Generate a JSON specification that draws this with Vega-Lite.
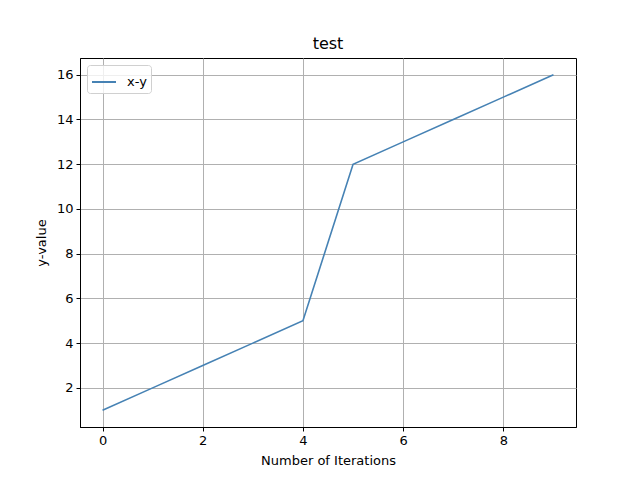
{
  "$schema": "https://vega.github.io/schema/vega-lite/v6.json",
  "autosize": {"type": "none"},
  "width": 496,
  "height": 369,
  "padding": {"left": 80, "top": 58, "right": 64, "bottom": 53},
  "background": "white",
  "config": {
    "font": "DejaVu Sans",
    "view": {"stroke": "black", "strokeWidth": 1},
    "axis": {
      "domainColor": "black",
      "tickColor": "black",
      "tickSize": 4,
      "labelFont": "DejaVu Sans",
      "labelFontSize": 13,
      "labelColor": "black",
      "titleFont": "DejaVu Sans",
      "titleFontSize": 13,
      "titleFontWeight": "normal",
      "titleColor": "black",
      "gridColor": "#b0b0b0",
      "gridWidth": 1,
      "gridOpacity": 1
    }
  },
  "title": {"text": "test", "fontSize": 16, "fontWeight": "normal", "font": "DejaVu Sans", "offset": 6, "color": "black"},
  "data": {"values": [
    {"x": 0, "y": 1, "s": "x-y"},
    {"x": 1, "y": 2, "s": "x-y"},
    {"x": 2, "y": 3, "s": "x-y"},
    {"x": 3, "y": 4, "s": "x-y"},
    {"x": 4, "y": 5, "s": "x-y"},
    {"x": 5, "y": 12, "s": "x-y"},
    {"x": 6, "y": 13, "s": "x-y"},
    {"x": 7, "y": 14, "s": "x-y"},
    {"x": 8, "y": 15, "s": "x-y"},
    {"x": 9, "y": 16, "s": "x-y"}
  ]},
  "mark": {"type": "line", "strokeWidth": 1.6},
  "encoding": {
    "x": {
      "field": "x", "type": "quantitative",
      "scale": {"domain": [-0.45, 9.45], "nice": false, "zero": false},
      "axis": {"values": [0, 2, 4, 6, 8], "title": "Number of Iterations", "labelPadding": 3, "titlePadding": 7, "labelFlush": false}
    },
    "y": {
      "field": "y", "type": "quantitative",
      "scale": {"domain": [0.25, 16.75], "nice": false, "zero": false},
      "axis": {"values": [2, 4, 6, 8, 10, 12, 14, 16], "title": "y-value", "labelPadding": 3, "titlePadding": 8, "labelFlush": false}
    },
    "color": {
      "field": "s", "type": "nominal",
      "scale": {"range": ["#4682b4"]},
      "legend": {
        "title": null,
        "orient": "top-left",
        "offset": 7,
        "symbolType": "stroke",
        "symbolSize": 576,
        "symbolStrokeWidth": 2,
        "labelFontSize": 13,
        "labelFont": "DejaVu Sans",
        "labelColor": "black",
        "labelOffset": 10,
        "fillColor": "rgba(255,255,255,0.8)",
        "strokeColor": "#d0d0d0",
        "cornerRadius": 3,
        "padding": 4
      }
    }
  }
}
